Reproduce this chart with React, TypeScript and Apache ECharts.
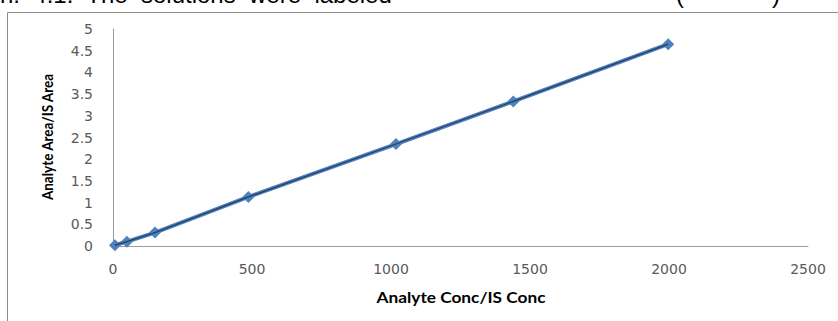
import React, { useEffect, useRef } from "react";
import * as echarts from "echarts";

// Calibration points: analyte/IS concentration ratio vs. analyte/IS peak-area ratio
const concRatio = [7, 50, 151, 487, 1018, 1440, 1997];
const areaRatio = [0.02, 0.1, 0.31, 1.13, 2.35, 3.33, 4.65];

const xTicks = [0, 500, 1000, 1500, 2000, 2500];
const yTicks = [0, 0.5, 1, 1.5, 2, 2.5, 3, 3.5, 4, 4.5, 5];

const xTitle = "Analyte Conc/IS Conc";
const yTitle = "Analyte Area/IS Area";

// Bottom edge of the running document text above the chart
const headLine = "n.  4.1.  The  solutions  were  labeled";

export default function App() {
  const ref = useRef<HTMLDivElement>(null);

  useEffect(() => {
    document.body.style.margin = "0";
    if (!ref.current) return;
    const chart = echarts.init(ref.current, null, { renderer: "svg" });
    const points = concRatio.map((x, i) => [x, areaRatio[i]]);
    const labelFont = {
      fontFamily: "DejaVu Sans",
      fontSize: 14,
      color: "#595959",
    };
    const headFont = "24px 'Liberation Sans', Arial, sans-serif";

    chart.setOption({
      animation: false,
      backgroundColor: "#ffffff",
      grid: { left: 113, right: 30, top: 29, bottom: 75, containLabel: false },
      xAxis: {
        type: "value",
        min: xTicks[0],
        max: xTicks[xTicks.length - 1],
        interval: xTicks[1] - xTicks[0],
        axisLine: { show: true, lineStyle: { color: "#9a9a9a", width: 1 } },
        axisTick: { show: false },
        splitLine: { show: false },
        axisLabel: { ...labelFont, margin: 16, formatter: (v: number) => String(v) },
      },
      yAxis: {
        type: "value",
        min: yTicks[0],
        max: yTicks[yTicks.length - 1],
        interval: yTicks[1] - yTicks[0],
        axisLine: { show: true, lineStyle: { color: "#9a9a9a", width: 1 } },
        axisTick: { show: false },
        splitLine: { show: false },
        axisLabel: { ...labelFont, margin: 20, formatter: (v: number) => String(v) },
      },
      graphic: [
        {
          type: "rect",
          shape: { x: 7.5, y: 12.5, width: 900, height: 400 },
          style: { fill: "none", stroke: "#8c8c8c", lineWidth: 1 },
          silent: true,
        },
        {
          type: "text",
          x: 0,
          y: -6,
          style: {
            text: headLine,
            font: headFont,
            fill: "#000",
            verticalAlign: "middle",
          },
        },
        {
          type: "text",
          x: 676,
          y: -6,
          style: { text: "(", font: headFont, fill: "#000", verticalAlign: "middle" },
        },
        {
          type: "text",
          x: 772,
          y: -6,
          style: { text: ")", font: headFont, fill: "#000", verticalAlign: "middle" },
        },
        {
          type: "text",
          x: 461,
          y: 297,
          scaleX: 1.08,
          style: {
            text: xTitle,
            font: "bold 16px Lato, 'Liberation Sans', sans-serif",
            fill: "#000",
            align: "center",
            verticalAlign: "middle",
          },
        },
        {
          type: "text",
          x: 47,
          y: 137,
          rotation: Math.PI / 2,
          scaleX: 0.9,
          style: {
            text: yTitle,
            font: "bold 15px Lato, 'Liberation Sans', sans-serif",
            fill: "#000",
            align: "center",
            verticalAlign: "middle",
          },
        },
      ],
      series: [
        {
          type: "line",
          data: points,
          symbol: "diamond",
          symbolSize: 12,
          lineStyle: { color: "#4f81bd", width: 4 },
          itemStyle: { color: "#4f81bd" },
          z: 2,
        },
        {
          type: "line",
          data: points,
          symbol: "none",
          lineStyle: { color: "#243f66", width: 1.3 },
          z: 3,
        },
      ],
    });

    return () => chart.dispose();
  }, []);

  return <div ref={ref} style={{ width: 838, height: 321 }} />;
}
